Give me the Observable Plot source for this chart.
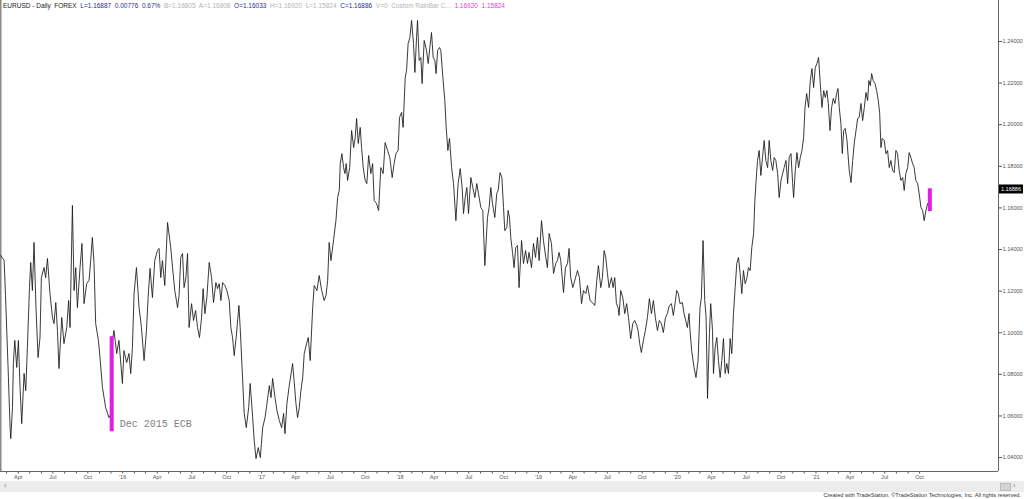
<!DOCTYPE html>
<html><head><meta charset="utf-8">
<script src="https://cdn.jsdelivr.net/npm/d3@7"></script>
<script src="https://cdn.jsdelivr.net/npm/@observablehq/plot@0.6"></script>
<style>
html,body{margin:0;padding:0;background:#fff;}
#wrap{position:relative;width:1024px;height:499px;overflow:hidden;font-family:"Liberation Sans",Arial,sans-serif;background:#fff;}
#chart svg{display:block;}
#hdr{position:absolute;left:3px;top:2px;font-size:6.5px;white-space:pre;line-height:8px;}
#band{position:absolute;left:0;top:481px;width:1024px;height:11px;background:#ececec;}
#band .l{position:absolute;left:4px;top:1px;font-size:7px;color:#777;}
#band .r{position:absolute;left:1000px;top:2px;width:9px;height:6px;background:#d4d4d4;border:1px solid #bbb;}
#band .r2{position:absolute;left:1013px;top:1px;font-size:7px;color:#777;}
#cap{position:absolute;right:3px;top:492px;font-size:5.6px;line-height:7px;color:#333;white-space:pre;}
</style></head><body>
<div id="wrap"><div id="chart"></div><div id="hdr"></div><div id="band"><span class="l">‹</span><span class="r"></span><span class="r2">›</span></div><div id="cap"></div></div>
<script>
// EUR/USD daily closes: [decimal year, price]
const closes = [
[2015.120,1.1371],[2015.144,1.1347],[2015.154,1.1179],[2015.172,1.0842],[2015.187,1.0544],[2015.192,1.0491],
[2015.204,1.0640],[2015.211,1.0857],[2015.221,1.0963],[2015.235,1.0833],[2015.247,1.0963],[2015.259,1.0737],
[2015.271,1.0563],[2015.288,1.0804],[2015.300,1.0722],[2015.312,1.0929],[2015.327,1.1217],[2015.336,1.1338],
[2015.348,1.1203],[2015.360,1.1434],[2015.374,1.1121],[2015.389,1.0881],[2015.403,1.0977],[2015.413,1.1265],
[2015.432,1.1313],[2015.444,1.1265],[2015.457,1.1357],[2015.475,1.1188],[2015.493,1.1073],[2015.504,1.1044],
[2015.517,1.1145],[2015.529,1.1011],[2015.540,1.0828],[2015.560,1.1073],[2015.576,1.0948],[2015.596,1.1025],
[2015.610,1.1155],[2015.620,1.1025],[2015.637,1.1612],[2015.649,1.1203],[2015.661,1.1313],[2015.673,1.1121],
[2015.692,1.1313],[2015.706,1.1429],[2015.721,1.1140],[2015.740,1.1236],[2015.757,1.1251],[2015.769,1.1347],
[2015.781,1.1458],[2015.793,1.1333],[2015.805,1.1044],[2015.825,1.0963],[2015.836,1.0881],[2015.854,1.0737],
[2015.877,1.0640],[2015.901,1.0592],[2015.918,1.0613],[2015.921,1.0940],[2015.937,1.1011],[2015.957,1.0900],
[2015.973,1.0963],[2015.998,1.0756],[2016.009,1.0914],[2016.029,1.0857],[2016.045,1.0900],[2016.058,1.0804],
[2016.070,1.0929],[2016.082,1.1188],[2016.099,1.1313],[2016.118,1.1121],[2016.135,1.1025],[2016.154,1.0866],
[2016.171,1.1011],[2016.183,1.1169],[2016.197,1.1309],[2016.214,1.1169],[2016.231,1.1347],[2016.250,1.1395],
[2016.262,1.1405],[2016.274,1.1265],[2016.286,1.1347],[2016.303,1.1227],[2016.323,1.1530],[2016.346,1.1410],
[2016.359,1.1313],[2016.375,1.1203],[2016.395,1.1121],[2016.406,1.1179],[2016.418,1.1362],[2016.431,1.1381],
[2016.442,1.1217],[2016.455,1.1265],[2016.467,1.1381],[2016.478,1.1025],[2016.496,1.1140],[2016.510,1.1059],
[2016.525,1.1107],[2016.539,1.1025],[2016.553,1.0977],[2016.568,1.1073],[2016.579,1.1212],[2016.592,1.1092],
[2016.606,1.1169],[2016.623,1.1338],[2016.640,1.1265],[2016.654,1.1145],[2016.671,1.1241],[2016.683,1.1212],
[2016.695,1.1236],[2016.707,1.1155],[2016.719,1.1241],[2016.736,1.1227],[2016.750,1.1203],[2016.767,1.1155],
[2016.779,1.1025],[2016.791,1.0977],[2016.803,1.0890],[2016.817,1.0977],[2016.837,1.1131],[2016.846,1.1025],
[2016.864,1.0770],[2016.875,1.0612],[2016.890,1.0544],[2016.907,1.0640],[2016.918,1.0756],[2016.936,1.0592],
[2016.947,1.0482],[2016.960,1.0395],[2016.976,1.0448],[2016.991,1.0400],[2017.008,1.0544],[2017.025,1.0592],
[2017.039,1.0660],[2017.056,1.0746],[2017.068,1.0688],[2017.080,1.0780],[2017.097,1.0688],[2017.111,1.0626],
[2017.128,1.0578],[2017.145,1.0544],[2017.159,1.0612],[2017.169,1.0515],[2017.183,1.0660],[2017.200,1.0746],
[2017.224,1.0852],[2017.236,1.0761],[2017.248,1.0660],[2017.260,1.0592],[2017.272,1.0640],[2017.284,1.0722],
[2017.297,1.0785],[2017.308,1.0900],[2017.325,1.0948],[2017.337,1.0977],[2017.351,1.0866],[2017.369,1.1121],
[2017.380,1.1227],[2017.400,1.1203],[2017.416,1.1275],[2017.434,1.1203],[2017.452,1.1155],[2017.465,1.1179],
[2017.477,1.1251],[2017.488,1.1434],[2017.501,1.1347],[2017.520,1.1448],[2017.537,1.1539],[2017.549,1.1650],
[2017.561,1.1684],[2017.568,1.1813],[2017.580,1.1861],[2017.592,1.1794],[2017.602,1.1765],[2017.611,1.1813],
[2017.621,1.1732],[2017.636,1.1794],[2017.650,1.1972],[2017.665,1.1890],[2017.676,1.1938],[2017.686,1.2030],
[2017.698,1.1910],[2017.712,1.1987],[2017.722,1.1890],[2017.734,1.1794],[2017.748,1.1732],[2017.760,1.1717],
[2017.773,1.1852],[2017.789,1.1765],[2017.802,1.1813],[2017.813,1.1636],[2017.830,1.1621],[2017.845,1.1588],
[2017.861,1.1794],[2017.878,1.1765],[2017.892,1.1914],[2017.910,1.1876],[2017.926,1.1842],[2017.943,1.1746],
[2017.957,1.1813],[2017.970,1.1861],[2017.986,1.1876],[2017.996,1.2035],[2018.011,1.2059],[2018.022,1.1987],
[2018.037,1.2227],[2018.047,1.2261],[2018.058,1.2390],[2018.071,1.2419],[2018.083,1.2501],[2018.097,1.2390],
[2018.107,1.2251],[2018.119,1.2419],[2018.126,1.2501],[2018.138,1.2309],[2018.150,1.2323],[2018.159,1.2198],
[2018.174,1.2405],[2018.191,1.2357],[2018.203,1.2294],[2018.215,1.2371],[2018.227,1.2443],[2018.239,1.2323],
[2018.251,1.2309],[2018.260,1.2246],[2018.271,1.2357],[2018.285,1.2371],[2018.294,1.2357],[2018.309,1.2227],
[2018.323,1.2116],[2018.333,1.1987],[2018.345,1.1876],[2018.357,1.1934],[2018.372,1.1794],[2018.386,1.1717],
[2018.403,1.1539],[2018.419,1.1717],[2018.434,1.1789],[2018.448,1.1698],[2018.458,1.1573],[2018.470,1.1650],
[2018.482,1.1698],[2018.494,1.1573],[2018.511,1.1746],[2018.525,1.1698],[2018.540,1.1650],[2018.554,1.1717],
[2018.566,1.1669],[2018.583,1.1602],[2018.597,1.1588],[2018.612,1.1323],[2018.631,1.1554],[2018.643,1.1602],
[2018.655,1.1698],[2018.667,1.1621],[2018.684,1.1554],[2018.698,1.1669],[2018.708,1.1684],[2018.722,1.1770],
[2018.735,1.1746],[2018.747,1.1602],[2018.756,1.1491],[2018.771,1.1506],[2018.780,1.1588],[2018.790,1.1554],
[2018.799,1.1458],[2018.812,1.1386],[2018.823,1.1313],[2018.835,1.1410],[2018.848,1.1419],[2018.859,1.1217],
[2018.877,1.1443],[2018.891,1.1333],[2018.906,1.1395],[2018.920,1.1333],[2018.931,1.1386],[2018.949,1.1313],
[2018.963,1.1429],[2018.978,1.1362],[2018.992,1.1458],[2019.004,1.1347],[2019.021,1.1539],[2019.035,1.1443],
[2019.052,1.1362],[2019.064,1.1313],[2019.076,1.1477],[2019.093,1.1429],[2019.108,1.1285],[2019.124,1.1333],
[2019.136,1.1347],[2019.148,1.1386],[2019.160,1.1347],[2019.180,1.1193],[2019.194,1.1313],[2019.209,1.1333],
[2019.220,1.1405],[2019.232,1.1265],[2019.247,1.1217],[2019.261,1.1251],[2019.281,1.1299],[2019.295,1.1265],
[2019.310,1.1140],[2019.324,1.1203],[2019.341,1.1188],[2019.353,1.1227],[2019.372,1.1155],[2019.389,1.1145],
[2019.406,1.1131],[2019.420,1.1251],[2019.432,1.1323],[2019.449,1.1217],[2019.461,1.1265],[2019.473,1.1395],
[2019.485,1.1362],[2019.497,1.1285],[2019.509,1.1217],[2019.526,1.1265],[2019.538,1.1217],[2019.550,1.1265],
[2019.562,1.1140],[2019.574,1.1121],[2019.581,1.1083],[2019.593,1.1203],[2019.608,1.1169],[2019.622,1.1092],
[2019.636,1.1140],[2019.649,1.1073],[2019.665,1.0972],[2019.680,1.1044],[2019.694,1.1059],[2019.709,1.1035],
[2019.718,1.1011],[2019.730,1.0948],[2019.742,1.0905],[2019.757,1.0963],[2019.771,1.1011],[2019.786,1.1073],
[2019.800,1.1164],[2019.815,1.1092],[2019.829,1.1155],[2019.843,1.1073],[2019.858,1.1011],[2019.872,1.1059],
[2019.887,1.1044],[2019.901,1.1001],[2019.916,1.1073],[2019.930,1.1092],[2019.944,1.1131],[2019.959,1.1140],
[2019.973,1.1083],[2019.988,1.1155],[2019.997,1.1203],[2020.009,1.1188],[2020.021,1.1140],[2020.038,1.1145],
[2020.050,1.1092],[2020.074,1.1025],[2020.086,1.1092],[2020.093,1.1011],[2020.105,1.0914],[2020.122,1.0833],
[2020.136,1.0785],[2020.151,1.0866],[2020.165,1.1121],[2020.175,1.1169],[2020.187,1.1443],[2020.199,1.1155],
[2020.209,1.1073],[2020.219,1.0684],[2020.233,1.0996],[2020.242,1.1140],[2020.255,1.1011],[2020.262,1.0804],
[2020.274,1.0929],[2020.286,1.0977],[2020.298,1.0866],[2020.310,1.0785],[2020.322,1.0866],[2020.334,1.0972],
[2020.346,1.0804],[2020.358,1.0852],[2020.370,1.0804],[2020.382,1.0972],[2020.394,1.0900],[2020.406,1.1092],
[2020.418,1.1217],[2020.430,1.1333],[2020.442,1.1362],[2020.454,1.1285],[2020.466,1.1188],[2020.478,1.1299],
[2020.490,1.1236],[2020.502,1.1261],[2020.514,1.1313],[2020.526,1.1299],[2020.538,1.1410],[2020.551,1.1477],
[2020.560,1.1636],[2020.569,1.1732],[2020.579,1.1828],[2020.591,1.1876],[2020.603,1.1756],[2020.615,1.1842],
[2020.627,1.1924],[2020.639,1.1828],[2020.652,1.1794],[2020.663,1.1924],[2020.675,1.1828],[2020.688,1.1780],
[2020.699,1.1842],[2020.711,1.1828],[2020.724,1.1765],[2020.735,1.1650],[2020.748,1.1732],[2020.760,1.1765],
[2020.771,1.1794],[2020.784,1.1828],[2020.796,1.1717],[2020.807,1.1842],[2020.820,1.1861],[2020.832,1.1717],
[2020.839,1.1650],[2020.851,1.1780],[2020.863,1.1866],[2020.875,1.1794],[2020.887,1.1842],[2020.899,1.1876],
[2020.911,1.1938],[2020.921,1.2083],[2020.933,1.2150],[2020.947,1.2083],[2020.959,1.2212],[2020.971,1.2270],
[2020.983,1.2179],[2020.995,1.2275],[2021.007,1.2294],[2021.019,1.2323],[2021.031,1.2198],[2021.043,1.2083],
[2021.056,1.2164],[2021.067,1.2131],[2021.079,1.2164],[2021.089,1.2102],[2021.101,1.1972],[2021.113,1.2083],
[2021.125,1.2126],[2021.137,1.2102],[2021.149,1.2150],[2021.159,1.2174],[2021.168,1.2083],[2021.180,1.2006],
[2021.190,1.1861],[2021.200,1.1972],[2021.211,1.1982],[2021.224,1.1924],[2021.240,1.1780],[2021.253,1.1722],
[2021.265,1.1828],[2021.276,1.1910],[2021.289,1.1972],[2021.301,1.2030],[2021.312,1.2035],[2021.325,1.2102],
[2021.337,1.2020],[2021.349,1.2083],[2021.361,1.2155],[2021.373,1.2116],[2021.382,1.2212],[2021.392,1.2188],
[2021.402,1.2246],[2021.413,1.2212],[2021.426,1.2198],[2021.438,1.2164],[2021.450,1.2116],[2021.460,1.2054],
[2021.469,1.1890],[2021.478,1.1934],[2021.493,1.1924],[2021.505,1.1861],[2021.517,1.1876],[2021.529,1.1794],
[2021.541,1.1828],[2021.553,1.1780],[2021.565,1.1770],[2021.577,1.1876],[2021.589,1.1861],[2021.601,1.1780],
[2021.613,1.1732],[2021.626,1.1746],[2021.637,1.1684],[2021.649,1.1765],[2021.662,1.1794],[2021.673,1.1866],
[2021.685,1.1842],[2021.698,1.1813],[2021.709,1.1794],[2021.721,1.1732],[2021.734,1.1717],[2021.745,1.1669],
[2021.758,1.1602],[2021.770,1.1588],[2021.781,1.1539],[2021.794,1.1588],[2021.806,1.1621],[2021.819,1.1603],
[2021.822,1.16886]
];

// ECB decision-day ranges highlighted in magenta
const ecbBars = [
  {date: "2015-12-03", high: 1.0981, low: 1.0524, label: "Dec 2015 ECB"},
  {date: "2021-10-28", high: 1.16920, low: 1.15824, label: ""}
];

const lastClose = 1.16886;
const yTicks = [1.04, 1.06, 1.08, 1.10, 1.12, 1.14, 1.16, 1.18, 1.20, 1.22, 1.24];
const yDomain = [1.0333, 1.2597];
const xDomain = ["2015-02-13", "2022-04-27"];
const tickRange = ["2015-03-01", "2021-11-01"];

const headerItems = [
  ["EURUSD - Daily  FOREX", "#1a1a1a"],
  ["L=1.16887  0.00776  0.67%", "#2e2e96"],
  ["B=1.16805  A=1.16808", "#b4b4b4"],
  ["O=1.16033", "#2e2e96"],
  ["H=1.16920  L=1.15824", "#b4b4b4"],
  ["C=1.16886", "#2e2e96"],
  ["V=0  Custom RainBar C...", "#b4b4b4"],
  ["1.16920  1.15824", "#e040e0"]
];
const caption = "Created with TradeStation. ©TradeStation Technologies, Inc. All rights reserved.";

function fromDecimalYear(v) {
  const y = Math.floor(v);
  const s = Date.UTC(y, 0, 1), e = Date.UTC(y + 1, 0, 1);
  return new Date(s + (v - y) * (e - s));
}
const series = closes.map(([t, p]) => ({date: fromDecimalYear(t), close: p}));
const bars = ecbBars.map(d => ({...d, date: new Date(d.date)}));
const xd = xDomain.map(d => new Date(d));
const monthTicks = d3.utcMonth.range(new Date(tickRange[0]), new Date(tickRange[1]));
const fmtMonth = d => {
  const m = d.getUTCMonth();
  if (m === 0) return "'" + d3.utcFormat("%y")(d);
  if (m === 3 || m === 6 || m === 9) return d3.utcFormat("%b")(d);
  return "";
};

const chart = Plot.plot({
  width: 1024,
  height: 481,
  marginLeft: 0,
  marginRight: 26,
  marginTop: 0,
  marginBottom: 10,
  style: {fontFamily: "Liberation Sans, Arial, sans-serif", background: "#fff", overflow: "visible"},
  x: {type: "utc", domain: xd},
  y: {domain: yDomain},
  marks: [
    Plot.axisY({anchor: "right", ticks: yTicks, tickFormat: d3.format(".5f"), tickSize: 3, tickPadding: 1, fontSize: 5.6, color: "#555", label: null}),
    Plot.axisX({ticks: monthTicks, tickFormat: fmtMonth, tickSize: 2.5, tickPadding: 1.5, fontSize: 5.6, color: "#555", label: null}),
    Plot.ruleY([yDomain[0]], {stroke: "#666", strokeWidth: 1}),
    Plot.ruleX([xd[1]], {stroke: "#666", strokeWidth: 1}),
    Plot.ruleX([xd[0]], {stroke: "#888", strokeWidth: 2}),
    Plot.line(series, {x: "date", y: "close", stroke: "#161616", strokeWidth: 0.85}),
    Plot.ruleX(bars, {x: "date", y1: "low", y2: "high", stroke: "#e41ce4", strokeWidth: 4}),
    Plot.text(bars, {x: "date", y: "low", text: "label", dx: 8, dy: -8, textAnchor: "start", fill: "#808080", fontSize: 10, fontFamily: "Liberation Mono, monospace"})
  ]
});
document.getElementById("chart").appendChild(chart);

// last-price tag on the price axis
const ys = chart.scale("y"), xs = chart.scale("x");
const yy = ys.apply(lastClose);
const xr = xs.range[1];
const g = d3.select(chart).append("g");
g.append("rect").attr("x", xr + 1).attr("y", yy - 4.5).attr("width", 24).attr("height", 9).attr("fill", "#000");
g.append("text").attr("x", xr + 13).attr("y", yy).attr("dy", "0.35em").attr("text-anchor", "middle")
  .attr("fill", "#fff").attr("font-size", 5.6).attr("font-family", "Liberation Sans, Arial, sans-serif")
  .text(d3.format(".5f")(lastClose));

const hdr = document.getElementById("hdr");
headerItems.forEach(([t, c], i) => {
  const s = document.createElement("span");
  s.textContent = (i ? "  " : "") + t;
  s.style.color = c;
  hdr.appendChild(s);
});
document.getElementById("cap").textContent = caption;
</script></body></html>
